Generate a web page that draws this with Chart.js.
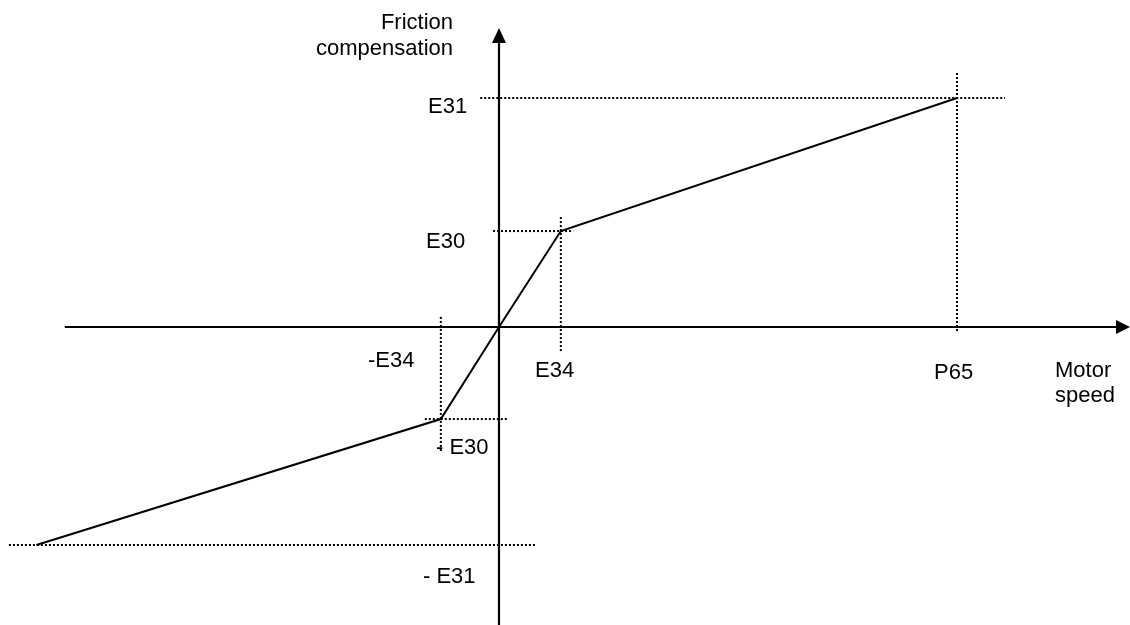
<!DOCTYPE html>
<html>
<head>
<meta charset="utf-8">
<script src="https://cdn.jsdelivr.net/npm/chart.js@4.4.1/dist/chart.umd.min.js"></script>
<style>
  html, body { margin: 0; padding: 0; background: #fff; }
  #wrap { width: 1130px; height: 625px; }
</style>
</head>
<body>
<div id="wrap"><canvas id="mycanvas"></canvas></div>
<script>
// friction compensation vs motor speed (P65 = 100, E31 = 100)
var speed = [-101, -12.7, 0, 13.5, 100];
var friction = [-95.2, -40.2, 0, 41.9, 100];

// named levels used by the guide lines
var E34 = 13.5, negE34 = -12.7, P65 = 100;
var E30 = 41.9, negE30 = -40.2, E31 = 100, negE31 = -95.2;

// guides: [x1, y1, x2, y2]
var guides = [
  [-4.1, E31, 110.5, E31],
  [P65, 110.9, P65, -2.6],
  [-1.3, E30, 16.2, E30],
  [E34, 48, E34, -11.4],
  [negE34, 4.4, negE34, -54.6],
  [-16.2, negE30, 1.7, negE30],
  [-107, negE31, 8.1, negE31]
];

// axis extents
var xAxisFrom = -94.8, xAxisTo = 137.77;
var yAxisFrom = -130.13, yAxisTo = 130.6;

// text labels: [text, x, y, align]
var labels = [
  ['Friction', 453, 29, 'right'],
  ['compensation', 453, 55, 'right'],
  ['E31', 428, 113, 'left'],
  ['E30', 426, 248, 'left'],
  ['-E34', 368, 367, 'left'],
  ['E34', 535, 377, 'left'],
  ['- E30', 436, 454, 'left'],
  ['- E31', 423, 583, 'left'],
  ['P65', 934, 379, 'left'],
  ['Motor', 1055, 377, 'left'],
  ['speed', 1055, 402, 'left']
];

var datasets = [];

guides.forEach(function(g) {
  datasets.push({
    data: [{x: g[0], y: g[1]}, {x: g[2], y: g[3]}],
    borderColor: '#000',
    borderWidth: 2,
    borderDash: [2, 2],
    pointRadius: 0
  });
});

datasets.push({
  data: [{x: xAxisFrom, y: 0}, {x: xAxisTo - 2.5, y: 0}],
  borderColor: '#000', borderWidth: 2.2, pointRadius: 0
});
datasets.push({
  data: [{x: 0, y: yAxisFrom}, {x: 0, y: yAxisTo - 5}],
  borderColor: '#000', borderWidth: 2.2, pointRadius: 0
});

var curve = [];
for (var i in speed) {
  curve.push({x: speed[i], y: friction[i]});
}
datasets.push({
  data: curve,
  borderColor: '#000', borderWidth: 2, pointRadius: 0
});

var extras = {
  id: 'extras',
  afterDatasetsDraw: function(chart) {
    var ctx = chart.ctx;
    var xs = chart.scales.x, ys = chart.scales.y;
    var ox = xs.getPixelForValue(0), oy = ys.getPixelForValue(0);
    ctx.save();
    ctx.fillStyle = '#000';
    // arrow on the speed axis
    var tx = xs.getPixelForValue(xAxisTo);
    ctx.beginPath();
    ctx.moveTo(tx, oy);
    ctx.lineTo(tx - 14, oy - 7);
    ctx.lineTo(tx - 14, oy + 7);
    ctx.closePath();
    ctx.fill();
    // arrow on the friction axis
    var ty = ys.getPixelForValue(yAxisTo);
    ctx.beginPath();
    ctx.moveTo(ox, ty);
    ctx.lineTo(ox - 7, ty + 15);
    ctx.lineTo(ox + 7, ty + 15);
    ctx.closePath();
    ctx.fill();

    ctx.font = '22px "Liberation Sans", Arial, sans-serif';
    ctx.textBaseline = 'alphabetic';
    labels.forEach(function(l) {
      ctx.textAlign = l[3];
      ctx.fillText(l[0], l[1], l[2]);
    });
    ctx.restore();
  }
};

var chart = new Chart(document.getElementById('mycanvas'), {
  type: 'line',
  data: { datasets: datasets },
  options: {
    responsive: true,
    maintainAspectRatio: false,
    animation: false,
    layout: { padding: 0 },
    plugins: { legend: { display: false }, tooltip: { enabled: false } },
    scales: {
      x: { type: 'linear', min: -108.95, max: 137.77, display: false },
      y: { type: 'linear', min: -130.13, max: 142.79, display: false }
    }
  },
  plugins: [extras]
});
</script>
</body>
</html>
